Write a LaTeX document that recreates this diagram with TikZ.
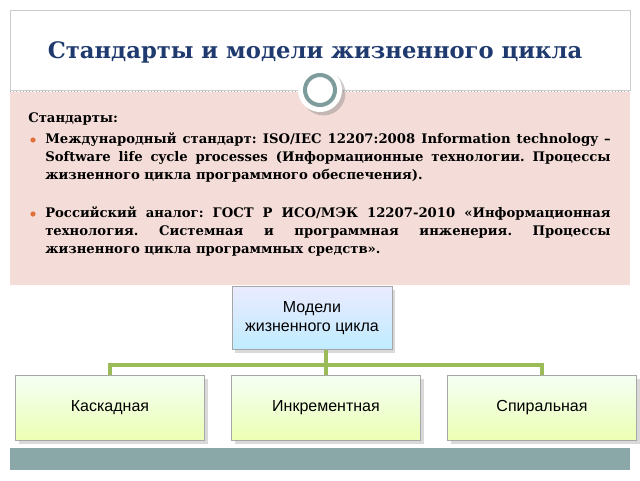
\documentclass[tikz,border=0pt]{standalone}
\usepackage{fontspec}
\setmainfont{DejaVu Serif}
\newfontfamily\titlefont{DejaVu Serif}
\newfontfamily\boxfont{Liberation Sans}
\usetikzlibrary{positioning, shadows}
\definecolor{titleblue}{HTML}{1F3A6E}
\definecolor{pinkbg}{HTML}{F4DDD8}
\definecolor{ringgray}{HTML}{7F9C9C}
\definecolor{linkgreen}{HTML}{9BBB59}
\definecolor{bulletorange}{HTML}{E0703A}
\definecolor{barteal}{HTML}{8AA8A8}

\tikzset{
  topbox/.style={draw=gray!70, top color=blue!8, bottom color=blue!30!cyan!25,
    minimum width=120pt, minimum height=47pt, align=center,
    font=\boxfont\fontsize{12}{14}\selectfont, drop shadow={opacity=0.3}},
  modelbox/.style={draw=gray!70, top color=green!4, bottom color=lime!30,
    minimum width=142pt, minimum height=49pt,
    font=\boxfont\fontsize{12}{14}\selectfont, drop shadow={opacity=0.3}},
  stdtext/.style={anchor=north west, inner sep=0pt, text width=424pt, align=justify,
    font=\bfseries\fontsize{9.9}{13.5}\selectfont,
    execute at begin node={\frenchspacing\hyphenpenalty=10000\relax}},
  link/.style={linkgreen, line width=2.5pt}
}

\begin{document}
\begin{tikzpicture}[x=0.75pt, y=-0.75pt]
  \useasboundingbox (0,0) rectangle (640,480);

  % slide frame and title
  \draw[gray!40, fill=white] (10,10) rectangle (630,90);
  \fill[pinkbg] (10,92) rectangle (630,285);
  \draw[gray!60, dotted] (10,91) -- (630,91);
  \node[font=\titlefont\bfseries\fontsize{17}{20}\selectfont, text=titleblue] (title) at (315,52)
    {Стандарты и модели жизненного цикла};
  \fill[white, drop shadow={opacity=0.4}] (320,90) circle (22);
  \draw[ringgray, line width=3pt] (320,90) circle (15);

  % standards text
  \node[anchor=north west, inner sep=0pt, font=\bfseries\fontsize{9.9}{13.5}\selectfont] (head) at (28,112)
    {Стандарты:};
  \node[stdtext] (std1) at (45,132)
    {Международный стандарт: ISO/IEC 12207:2008 Information technology – Software life cycle processes (Информационные технологии. Процессы жизненного цикла программного обеспечения).};
  \node[stdtext] (std2) at (45,206)
    {Российский аналог: ГОСТ Р ИСО/МЭК 12207-2010 «Информационная технология. Системная и программная инженерия. Процессы жизненного цикла программных средств».};
  \fill[bulletorange] (33,140) circle (2.6);
  \fill[bulletorange] (33,214) circle (2.6);

  % model hierarchy
  \node[topbox] (models) at (312,318) {Модели\\жизненного цикла};
  \node[modelbox] (cascade) at (110,408) {Каскадная};
  \node[modelbox] (incr) at (326,408) {Инкрементная};
  \node[modelbox] (spiral) at (542,408) {Спиральная};
  \coordinate (hub) at (326,365);
  \draw[link] (models.south -| hub) -- (hub);
  \draw[link] (cascade.north) |- (hub) -| (spiral.north);
  \draw[link] (hub) -- (incr.north);

  % bottom bar
  \fill[barteal] (10,448) rectangle (630,470);
\end{tikzpicture}
\end{document}
